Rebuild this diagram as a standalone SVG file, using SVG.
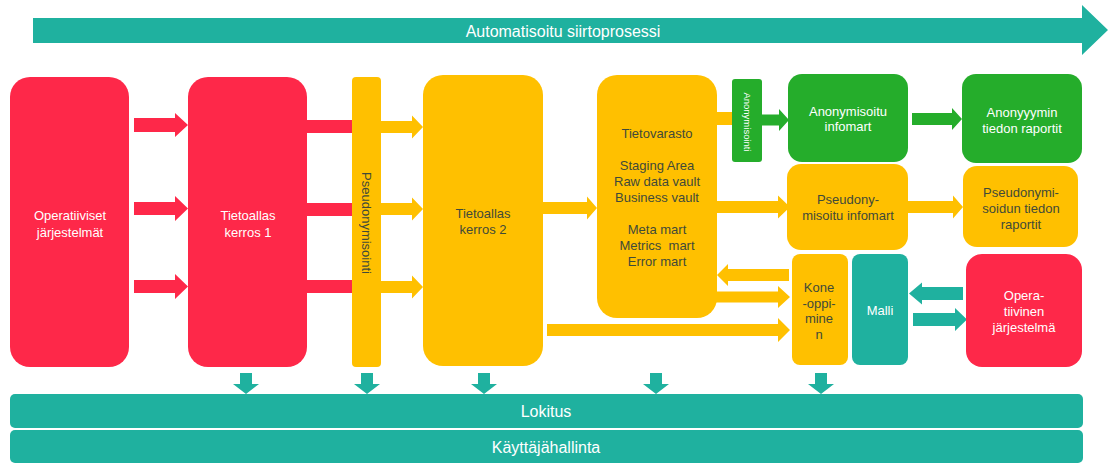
<svg xmlns="http://www.w3.org/2000/svg" width="1110" height="463" viewBox="0 0 1110 463">
  <style>
    .red { fill: #fe2849; }
    .yel { fill: #ffc000; }
    .grn { fill: #25ad2b; }
    .teal { fill: #1fb19f; }
    text { font-family: "Liberation Sans", Arial, sans-serif; text-anchor: middle; }
    .lt { fill: #ffffff; font-size: 13px; }
    .dk { fill: #3f4a3a; font-size: 13px; }
    .big { fill: #ffffff; font-size: 16px; }
  </style>

  <rect width="1110" height="463" fill="#ffffff"/>

  <!-- process banner arrow -->
  <g id="banner">
    <polygon class="teal" points="33,18 1082,18 1082,5 1108,30 1082,55 1082,43 33,43"/>
    <text class="big" x="563" y="37">Automatisoitu siirtoprosessi</text>
  </g>

  <g id="connectors">
    <!-- source systems to lake layer 1 -->
    <polygon class="red" points="134,118 175,118 175,113 188,125 175,137 175,132 134,132"/>
    <polygon class="red" points="134,202 175,202 175,196 188,208.5 175,221 175,215 134,215"/>
    <polygon class="red" points="134,280 175,280 175,274 188,286.5 175,299 175,293 134,293"/>
    <!-- lake layer 1 into pseudonymisation -->
    <rect class="red" x="307" y="120" width="46" height="13"/>
    <rect class="red" x="307" y="203" width="46" height="13"/>
    <rect class="red" x="307" y="280" width="46" height="13"/>
    <!-- pseudonymisation to lake layer 2 -->
    <polygon class="yel" points="380,121 412,121 412,115.5 423,127 412,138.5 412,133 380,133"/>
    <polygon class="yel" points="380,203 412,203 412,197.5 423,209 412,220.5 412,215 380,215"/>
    <polygon class="yel" points="380,281 412,281 412,275.5 423,287 412,298.5 412,293 380,293"/>
    <!-- lake layer 2 to warehouse -->
    <polygon class="yel" points="542,202 587,202 587,196.5 597,208 587,219.5 587,214 542,214"/>
    <!-- lake layer 2 to machine learning -->
    <polygon class="yel" points="547,324 778,324 778,318 790,330 778,342 778,336 547,336"/>
    <!-- warehouse to anonymisation -->
    <rect class="yel" x="716" y="112" width="18" height="13"/>
    <!-- anonymisation to anonymised infomart -->
    <polygon class="grn" points="761,114.5 779,114.5 779,109 789,120 779,131 779,125.5 761,125.5"/>
    <!-- anonymised infomart to reports -->
    <polygon class="grn" points="912,113 952,113 952,108 962,119 952,130 952,125 912,125"/>
    <!-- warehouse to pseudonymised infomart -->
    <polygon class="yel" points="716,201 778,201 778,195.5 790,207 778,218.5 778,213 716,213"/>
    <!-- pseudonymised infomart to reports -->
    <polygon class="yel" points="907,201 953,201 953,195.5 963,207 953,218.5 953,213 907,213"/>
    <!-- machine learning back to warehouse -->
    <polygon class="yel" points="789,269 728,269 728,264 717,275 728,286 728,281 789,281"/>
    <!-- warehouse to machine learning -->
    <polygon class="yel" points="716,291.5 778,291.5 778,286 790,297 778,308 778,302.5 716,302.5"/>
    <!-- operational system to model -->
    <polygon class="teal" points="963,287 922,287 922,282.5 909,293.5 922,304.5 922,300 963,300"/>
    <!-- model to operational system -->
    <polygon class="teal" points="913,313 955,313 955,308 967,319.5 955,331 955,326 913,326"/>
    <!-- logging feeds -->
    <polygon class="teal" points="240,373 252,373 252,384 259,384 246,394 233,384 240,384"/>
    <polygon class="teal" points="361,373 373,373 373,384 380,384 367,394 354,384 361,384"/>
    <polygon class="teal" points="478,373 490,373 490,384 497,384 484,394 471,384 478,384"/>
    <polygon class="teal" points="650,373 662,373 662,384 669,384 656,394 643,384 650,384"/>
    <polygon class="teal" points="815,373 827,373 827,384 834,384 821,394 808,384 815,384"/>
  </g>

  <g id="operatiiviset">
    <rect class="red" x="10" y="77" width="119" height="290" rx="20"/>
    <text class="lt" x="70" y="220">Operatiiviset</text>
    <text class="lt" x="70" y="237">järjestelmät</text>
  </g>

  <g id="tietoallas1">
    <rect class="red" x="188" y="77" width="119" height="290" rx="20"/>
    <text class="lt" x="248" y="220">Tietoallas</text>
    <text class="lt" x="248" y="237">kerros 1</text>
  </g>

  <g id="pseudonymisointi">
    <rect class="yel" x="352" y="77" width="29" height="290" rx="4"/>
    <text class="dk" font-size="13.5" transform="translate(366,223) rotate(90)" y="4.5">Pseudonymisointi</text>
  </g>

  <g id="tietoallas2">
    <rect class="yel" x="423" y="75" width="120" height="291" rx="20"/>
    <text class="dk" x="483" y="218">Tietoallas</text>
    <text class="dk" x="483" y="234">kerros 2</text>
  </g>

  <g id="tietovarasto">
    <rect class="yel" x="597" y="75" width="120" height="243" rx="20"/>
    <text class="dk" x="657" y="138">Tietovarasto</text>
    <text class="dk" x="657" y="170">Staging Area</text>
    <text class="dk" x="657" y="186">Raw data vault</text>
    <text class="dk" x="657" y="202">Business vault</text>
    <text class="dk" x="657" y="234">Meta mart</text>
    <text class="dk" x="657" y="250">Metrics&#160; mart</text>
    <text class="dk" x="657" y="266">Error mart</text>
  </g>

  <g id="anonymisointi">
    <rect class="grn" x="732" y="79" width="30" height="83" rx="3"/>
    <text fill="#ffffff" font-size="9.5" transform="translate(747,122) rotate(90)" y="3.3">Anonymisointi</text>
  </g>

  <g id="anon-infomart">
    <rect class="grn" x="788" y="74" width="120" height="88" rx="14"/>
    <text class="lt" x="848" y="116">Anonymisoitu</text>
    <text class="lt" x="848" y="131">infomart</text>
  </g>

  <g id="anon-raportit">
    <rect class="grn" x="962" y="74" width="120" height="89" rx="14"/>
    <text class="lt" x="1022" y="117">Anonyyymin</text>
    <text class="lt" x="1022" y="133">tiedon raportit</text>
  </g>

  <g id="pseudo-infomart">
    <rect class="yel" x="787" y="164" width="121" height="86" rx="14"/>
    <text class="dk" x="848" y="204">Pseudony-</text>
    <text class="dk" x="848" y="220">misoitu infomart</text>
  </g>

  <g id="pseudo-raportit">
    <rect class="yel" x="963" y="166" width="115" height="81" rx="14"/>
    <text class="dk" x="1021" y="197">Pseudonymi-</text>
    <text class="dk" x="1021" y="213">soidun tiedon</text>
    <text class="dk" x="1021" y="229">raportit</text>
  </g>

  <g id="koneoppiminen">
    <rect class="yel" x="792" y="254" width="56" height="111" rx="8"/>
    <text class="dk" x="819" y="292">Kone</text>
    <text class="dk" x="819" y="307.5">-oppi-</text>
    <text class="dk" x="819" y="323">mine</text>
    <text class="dk" x="819" y="338.5">n</text>
  </g>

  <g id="malli">
    <rect class="teal" x="852" y="254" width="56" height="111" rx="8"/>
    <text class="lt" x="880" y="315">Malli</text>
  </g>

  <g id="operatiivinen">
    <rect class="red" x="966" y="254" width="116" height="113" rx="16"/>
    <text class="lt" x="1024" y="300">Opera-</text>
    <text class="lt" x="1024" y="316">tiivinen</text>
    <text class="lt" x="1024" y="332">järjestelmä</text>
  </g>

  <g id="lokitus">
    <rect class="teal" x="10" y="394" width="1073" height="34" rx="5"/>
    <text class="big" x="546" y="417">Lokitus</text>
  </g>

  <g id="kayttajahallinta">
    <rect class="teal" x="10" y="430" width="1073" height="33" rx="5"/>
    <text class="big" x="546" y="453">Käyttäjähallinta</text>
  </g>
</svg>
